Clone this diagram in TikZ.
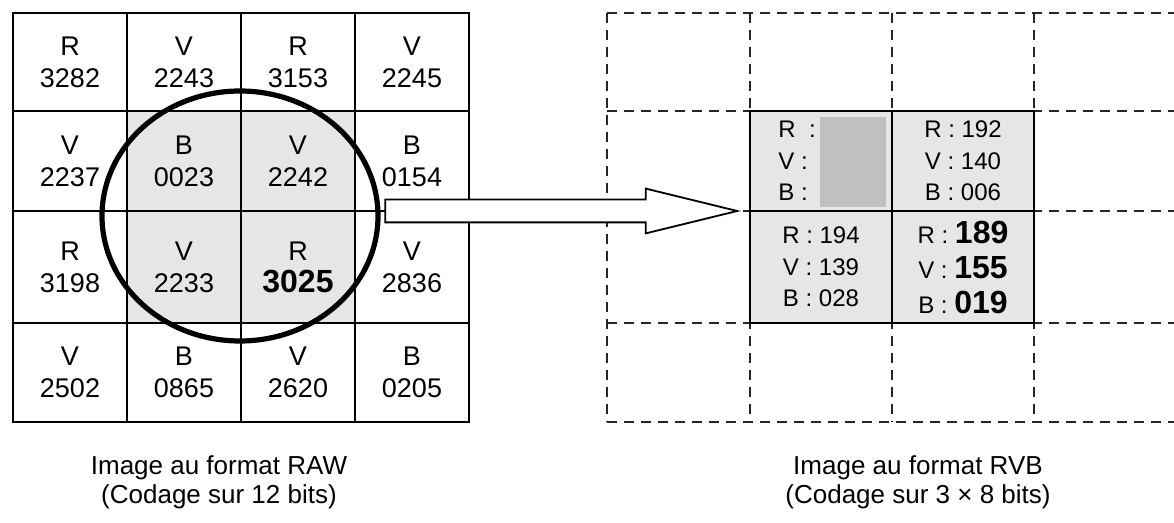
\documentclass[tikz,border=0pt]{standalone}
\usepackage{fontspec}
\setmainfont{Liberation Sans}
\usepackage{tikz}
\usetikzlibrary{positioning, calc, shapes.geometric, shapes.arrows}

\definecolor{cellgray}{HTML}{E6E6E6}
\definecolor{maskgray}{HTML}{C0C0C0}
\newcommand{\boldval}[1]{{\fontsize{16}{16}\selectfont\bfseries #1}}

\begin{document}
\begin{tikzpicture}[x=0.5pt, y=-0.5pt, node distance=0pt]

% Define block styles
\tikzstyle{rawcell} = [draw, line width=0.9pt, rectangle, inner sep=0pt, outer sep=0pt, minimum width=57pt, align=center, font=\fontsize{13.5}{16}\selectfont]
\tikzstyle{rvbcell} = [draw, line width=0.9pt, rectangle, fill=cellgray, inner sep=0pt, outer sep=0pt, minimum width=71pt, align=center, font=\fontsize{12}{15.75}\selectfont]
\tikzstyle{hilite} = [fill=cellgray]
\tikzstyle{rowone} = [minimum height=49pt]
\tikzstyle{rowtwo} = [minimum height=50pt]
\tikzstyle{rowthree} = [minimum height=56pt]
\tikzstyle{rowfour} = [minimum height=49.5pt]
\tikzstyle{gridline} = [dashed, dash pattern=on 5pt off 3.5pt, line width=0.9pt, black!85]
\tikzstyle{mask} = [fill=maskgray, rectangle, inner sep=0pt, minimum width=33pt, minimum height=45pt]
\tikzstyle{lens} = [draw, ellipse, line width=2.6pt, inner sep=0pt, minimum width=138pt, minimum height=125pt]
\tikzstyle{bigarrow} = [draw, fill=white, line width=0.9pt, single arrow, inner sep=5.25pt, minimum height=176pt, single arrow head extend=5.5pt, single arrow tip angle=27.5]
\tikzstyle{caption} = [align=center, inner sep=0pt, font=\fontsize{13}{14.5}\selectfont]

\useasboundingbox (0,0) rectangle (1174,523);

% Nodes
\node [rawcell, rowone, anchor=north west] (raw11) at (13,13) {R\\3282};
\node [rawcell, rowone, right=of raw11] (raw12) {V\\2243};
\node [rawcell, rowone, right=of raw12] (raw13) {R\\3153};
\node [rawcell, rowone, right=of raw13] (raw14) {V\\2245};
\node [rawcell, rowtwo, below=of raw11] (raw21) {V\\2237};
\node [rawcell, rowtwo, hilite, right=of raw21] (raw22) {B\\0023};
\node [rawcell, rowtwo, hilite, right=of raw22] (raw23) {V\\2242};
\node [rawcell, rowtwo, right=of raw23] (raw24) {B\\0154};
\node [rawcell, rowthree, below=of raw21] (raw31) {R\\3198};
\node [rawcell, rowthree, hilite, right=of raw31] (raw32) {V\\2233};
\node [rawcell, rowthree, hilite, right=of raw32] (raw33) {R\\\boldval{3025}};
\node [rawcell, rowthree, right=of raw33] (raw34) {V\\2836};
\node [rawcell, rowfour, below=of raw31] (raw41) {V\\2502};
\node [rawcell, rowfour, right=of raw41] (raw42) {B\\0865};
\node [rawcell, rowfour, right=of raw42] (raw43) {V\\2620};
\node [rawcell, rowfour, right=of raw43] (raw44) {B\\0205};

\node [lens] (lens) at ($(raw22.south east)+(-1,5)$) {};

% RVB grid
\draw [gridline] (607,13) -- (1174,13);
\draw [gridline] (607,111) -- (1174,111);
\draw [gridline] (607,211) -- (1174,211);
\draw [gridline] (607,323) -- (1174,323);
\draw [gridline] (607,422) -- (1174,422);
\draw [gridline] (607,13) -- (607,422);
\draw [gridline] (750,13) -- (750,422);
\draw [gridline] (892,13) -- (892,422);
\draw [gridline] (1034,13) -- (1034,422);

\node [rvbcell, rowtwo, anchor=north west] (rvb11) at (750,111) {};
\node [rvbcell, rowtwo, right=of rvb11] (rvb12) {R : 192\\V : 140\\B : 006};
\node [rvbcell, rowthree, below=of rvb11] (rvb21) {R : 194\\V : 139\\B : 028};
\node [rvbcell, rowthree, right=of rvb21, font=\fontsize{12}{17.5}\selectfont] (rvb22) {R : \boldval{189}\\V : \boldval{155}\\B : \boldval{019}};
\node [anchor=west, align=left, inner sep=0pt, font=\fontsize{12}{15.75}\selectfont] (rvb11txt) at ($(rvb11.west)+(28,0)$) {R\ \ :\\V :\\B :};
\node [mask, anchor=east] (rvb11mask) at ($(rvb11.east)+(-6,1)$) {};

% Connections
\node [bigarrow, anchor=tip] (arrow) at ($(rvb11.south west)+(-9,0)$) {};

% Captions
\node [caption] (rawcap) at (219,482) {Image au format RAW\\(Codage sur 12 bits)};
\node [caption] (rvbcap) at (918,482) {Image au format RVB\\(Codage sur 3 × 8 bits)};

\end{tikzpicture}
\end{document}
